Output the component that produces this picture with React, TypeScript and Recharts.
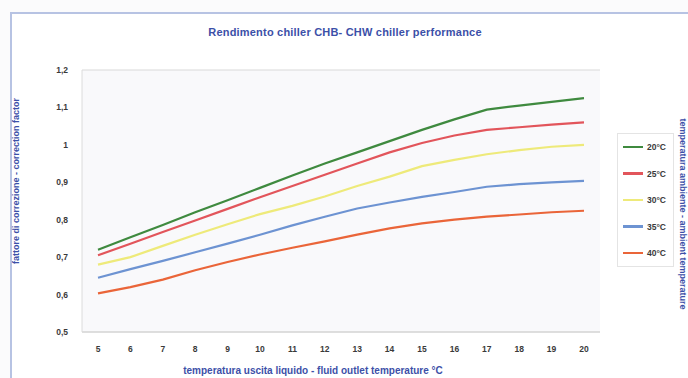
import React from 'react';
import { LineChart, Line, XAxis, YAxis, CartesianGrid } from 'recharts';

const categories = ['5', '6', '7', '8', '9', '10', '11', '12', '13', '14', '15', '16', '17', '18', '19', '20'];
const s20 = [0.72, 0.753, 0.786, 0.82, 0.852, 0.885, 0.918, 0.95, 0.98, 1.01, 1.04, 1.068, 1.094, 1.105, 1.115, 1.125];
const s25 = [0.705, 0.736, 0.767, 0.798, 0.829, 0.86, 0.89, 0.92, 0.95, 0.98, 1.005, 1.025, 1.04, 1.047, 1.054, 1.06];
const s30 = [0.68, 0.7, 0.73, 0.76, 0.788, 0.815, 0.837, 0.862, 0.89, 0.915, 0.943, 0.96, 0.975, 0.986, 0.995, 1.0];
const s35 = [0.645, 0.668, 0.69, 0.713, 0.736, 0.76, 0.785, 0.808, 0.83, 0.846, 0.861, 0.874, 0.888, 0.895, 0.9, 0.904];
const s40 = [0.603, 0.62, 0.64, 0.665, 0.687, 0.707, 0.725, 0.742, 0.76, 0.777, 0.79, 0.8, 0.808, 0.814, 0.82, 0.824];
const yTicks = [0.5, 0.6, 0.7, 0.8, 0.9, 1.0, 1.1, 1.2];

const seriesNames = ['20°C', '25°C', '30°C', '35°C', '40°C'];
const seriesColors = ['#3f8a3f', '#e2555b', '#eeea7a', '#6d93d2', '#ea6539'];
const seriesValues = [s20, s25, s30, s35, s40];

const data = categories.map((c, i) => {
  const row: Record<string, string | number> = { t: c };
  seriesNames.forEach((n, k) => {
    row[n] = seriesValues[k][i];
  });
  return row;
});

const blue = '#3c50a8';
const fmt = (v: number) => (Math.abs(v - 1) < 1e-9 ? '1' : String(Math.round(v * 10) / 10).replace('.', ','));

export default function App() {
  return (
    <div
      style={{
        position: 'absolute',
        left: 0,
        top: 0,
        width: 688,
        height: 378,
        background: '#fbfbfc',
        overflow: 'hidden',
        fontFamily: '"Liberation Sans", Arial, sans-serif',
      }}
    >
      <div
        style={{
          position: 'absolute',
          left: 10,
          top: 12,
          width: 700,
          height: 400,
          border: '2px solid #b7c3e3',
          background: '#ffffff',
        }}
      />
      <div style={{ position: 'absolute', left: 0, top: 0 }}>
        <LineChart width={688} height={378} data={data} margin={{ top: 70, right: 88, bottom: 16, left: 52 }}>
          <CartesianGrid vertical={false} stroke="#d9d9d9" fill="#f9f9fb" />
          <XAxis
            dataKey="t"
            height={30}
            padding={{ left: 16, right: 16 }}
            tickLine={false}
            axisLine={{ stroke: '#d0d0d0' }}
            tick={{ fontSize: 8.5, fontWeight: 700, fill: '#3a3a3a' }}
            tickMargin={8}
            interval={0}
          />
          <YAxis
            yAxisId="l"
            domain={[0.5, 1.2]}
            ticks={yTicks}
            width={30}
            tickFormatter={fmt}
            tickLine={false}
            axisLine={{ stroke: '#dcdcdc' }}
            tick={{ fontSize: 8.5, fontWeight: 700, fill: '#3a3a3a' }}
            tickMargin={8}
          />
          <YAxis yAxisId="r" orientation="right" width={0} tick={false} tickLine={false} axisLine={{ stroke: '#e2e2e2' }} domain={[0.5, 1.2]} />
          {seriesNames.map((n, k) => (
            <Line
              key={n}
              yAxisId="l"
              dataKey={n}
              type="linear"
              stroke={seriesColors[k]}
              strokeWidth={2.2}
              dot={false}
              isAnimationActive={false}
            />
          ))}
        </LineChart>
      </div>
      <div
        style={{
          position: 'absolute',
          left: 95,
          width: 500,
          top: 26,
          textAlign: 'center',
          fontSize: 11,
          fontWeight: 700,
          color: blue,
          letterSpacing: 0.2,
        }}
      >
        Rendimento chiller CHB- CHW chiller performance
      </div>
      <div
        style={{
          position: 'absolute',
          left: 13,
          width: 600,
          top: 365,
          textAlign: 'center',
          fontSize: 10,
          fontWeight: 700,
          color: blue,
        }}
      >
        temperatura uscita liquido - fluid outlet temperature °C
      </div>
      <div
        style={{
          position: 'absolute',
          left: 16,
          top: 182,
          width: 300,
          marginLeft: -150,
          marginTop: -6,
          textAlign: 'center',
          fontSize: 9,
          fontWeight: 700,
          color: blue,
          transform: 'rotate(-90deg)',
          whiteSpace: 'nowrap',
        }}
      >
        fattore di correzione - correction factor
      </div>
      <div
        style={{
          position: 'absolute',
          left: 683,
          top: 215,
          width: 300,
          marginLeft: -150,
          marginTop: -6,
          textAlign: 'center',
          fontSize: 9,
          fontWeight: 700,
          color: blue,
          transform: 'rotate(90deg)',
          whiteSpace: 'nowrap',
        }}
      >
        temperatura ambiente - ambient temperature
      </div>
      <div
        style={{
          position: 'absolute',
          left: 617,
          top: 133,
          width: 55,
          height: 132,
          border: '1px solid #e4e4e4',
          background: '#ffffff',
        }}
      >
        {seriesNames.map((n, k) => (
          <div
            key={n}
            style={{
              position: 'absolute',
              left: 5,
              top: 8 + k * 26.5,
              display: 'flex',
              alignItems: 'center',
              fontSize: 8.5,
              fontWeight: 700,
              color: '#3a3a3a',
            }}
          >
            <span style={{ display: 'inline-block', width: 20, height: 2.5, background: seriesColors[k], marginRight: 4 }} />
            {n}
          </div>
        ))}
      </div>
    </div>
  );
}
